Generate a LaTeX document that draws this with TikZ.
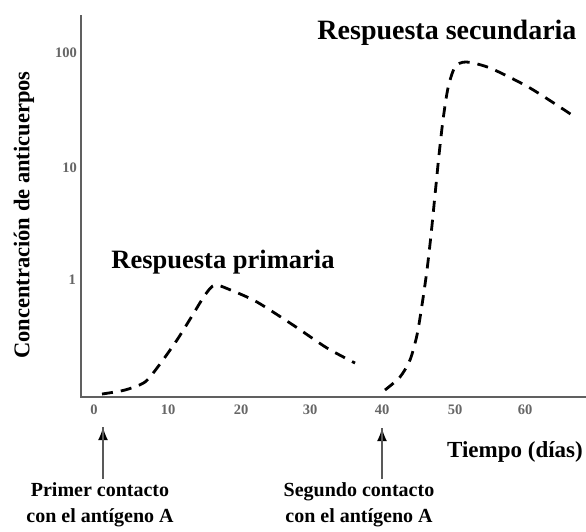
\documentclass[tikz,border=0pt]{standalone}
\usepackage{fontspec}
\setmainfont{Liberation Serif}
\usetikzlibrary{positioning, calc, arrows.meta, decorations.markings}
\tikzstyle{Arrow} = [
line width=2.4pt, gray!70!black,
decoration={
markings,
mark=at position 0.9999 with {
\arrow[black, scale=1.3]{latex}}},
preaction = {decorate}]
\tikzstyle{Axis} = [line width=2.6pt, gray!75!black]
\tikzstyle{Curve} = [line width=2.8pt, dash pattern=on 11pt off 8pt, smooth, tension=0.45]
\tikzstyle{Tick} = [font=\fontsize{14.5}{14.5}\selectfont\bfseries, text=gray!80!black, inner sep=0pt]
\tikzstyle{Label} = [font=\fontsize{20}{26}\selectfont\bfseries, align=center, inner sep=0pt]

\begin{document}
\begin{tikzpicture}[x=1pt, y=-1pt]
    \useasboundingbox (0,0) rectangle (586,531);
    \coordinate (O) at (81,397);
    \coordinate (ytop) at (81,15);
    \coordinate (xend) at (586,397);
    \draw[Axis] (ytop) -- (O) -- (xend);
    % tick labels
    \foreach \d/\px in {0/94, 10/168, 20/241, 30/310, 40/382, 50/455, 60/525}
        \node[Tick] (x\d) at (\px,410) {\d};
    \node[Tick, anchor=east] (y100) at (77,53) {100};
    \node[Tick, anchor=east] (y10) at (77,168) {10};
    \node[Tick, anchor=east] (y1) at (76,280) {1};
    \node[font=\fontsize{22.5}{22.5}\selectfont\bfseries, rotate=90, inner sep=0pt] (ylab) at (24,215) {Concentración de anticuerpos};
    \node[font=\fontsize{23}{23}\selectfont\bfseries, inner sep=0pt] (xlab) at (515,452) {Tiempo (días)};
    % responses
    \node[font=\fontsize{26.5}{26.5}\selectfont\bfseries, inner sep=0pt] (prim) at (223,262) {Respuesta primaria};
    \node[font=\fontsize{28}{28}\selectfont\bfseries, inner sep=0pt] (sec) at (447,33) {Respuesta secundaria};
    \draw[Curve] plot coordinates {(102,394) (125,390) (145,382) (160,364) (177,340) (192,316) (205,295) (215,285) (233,291) (257,302) (293,325) (327,348) (355,363)};
    \draw[Curve] plot coordinates {(385,390) (400,377) (410,360) (417,335) (422,305) (427,270) (431,235) (435,195) (439,155) (443,120) (448,88) (455,67) (466,62) (490,68) (530,88) (575,117)};
    % contacts
    \node[Label] (c1) at (100,505) {Primer contacto\\con el antígeno A};
    \node[Label] (c2) at (359,505) {Segundo contacto\\con el antígeno A};
    \coordinate (t1) at (103,427);
    \coordinate (t2) at (382,428);
    \draw[Arrow] (c1.north -| t1) ++(0,-4) -- (t1);
    \draw[Arrow] (c2.north -| t2) ++(0,-4) -- (t2);
\end{tikzpicture}
\end{document}
